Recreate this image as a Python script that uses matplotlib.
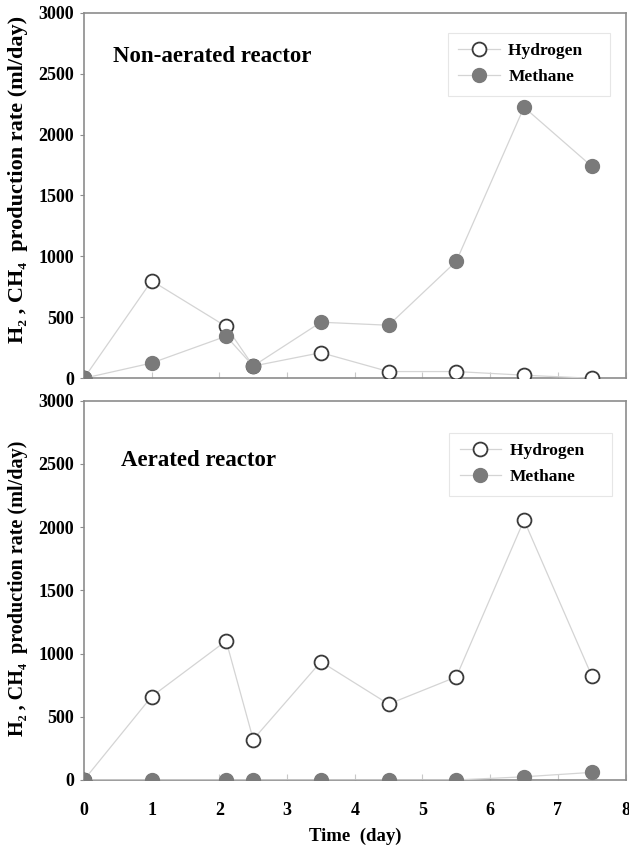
import matplotlib
matplotlib.use("Agg")
import matplotlib.pyplot as plt

plt.rcParams['font.family'] = ['Liberation Serif', 'DejaVu Serif']
plt.rcParams['font.weight'] = 'bold'

# sampling times (day)
days = [0, 1, 2.1, 2.5, 3.5, 4.5, 5.5, 6.5, 7.5]

# non-aerated reactor
h2_non = [0, 800, 425, 100, 210, 55, 55, 25, 0]
ch4_non = [0, 125, 345, 100, 460, 435, 960, 2225, 1740]

# aerated reactor
h2_aer = [0, 660, 1100, 320, 935, 600, 815, 2055, 825]
ch4_aer = [0, 0, 0, 0, 0, 0, 0, 25, 60]

titles = ['Non-aerated reactor', 'Aerated reactor']
title_pos = [(0.43, 2640), (0.55, 2526)]
legend_anchor = [(0.972, 0.945), (0.975, 0.915)]
ylabel = 'H\u2082 , CH\u2084  production rate (ml/day)'
ylabel_size = [16, 14.5]
ylabel_y = [0.545, 0.505]

fig = plt.figure(figsize=(6.29, 8.5), dpi=100)
ax1 = fig.add_axes([0.1335, 0.555, 0.861, 0.43])
ax2 = fig.add_axes([0.1335, 0.0824, 0.861, 0.4462])

spine_col = '#8c8c8c'
line_col = '#d4d4d4'
fill_col = '#7a7a7a'

for i, (ax, h2, ch4) in enumerate([(ax1, h2_non, ch4_non), (ax2, h2_aer, ch4_aer)]):
    ax.plot(days, h2, '-o', color=line_col, lw=0.9, ms=10,
            mfc='white', mec='#3a3a3a', mew=1.3, label='Hydrogen    ', zorder=3)
    ax.plot(days, ch4, '-o', color=line_col, lw=0.9, ms=10,
            mfc=fill_col, mec=fill_col, label='Methane', zorder=3)
    ax.set_xlim(0, 8)
    ax.set_ylim(0, 3000)
    ax.set_yticks(range(0, 3001, 500))
    ax.set_xticks(range(0, 9))
    for s in ax.spines.values():
        s.set_color(spine_col)
        s.set_linewidth(1.2)
    ax.tick_params(axis='x', direction='in', length=4, color='#c8c8c8', labelsize=13, pad=16)
    ax.tick_params(axis='y', direction='out', length=3, color=spine_col, labelsize=13, pad=4)
    for lab in ax.get_xticklabels() + ax.get_yticklabels():
        lab.set_fontweight('bold')
    ax.set_ylabel(ylabel, fontsize=ylabel_size[i], fontweight='bold')
    ax.yaxis.set_label_coords(-0.104, ylabel_y[i])
    ax.text(title_pos[i][0], title_pos[i][1], titles[i], fontsize=16.5,
            fontweight='bold', va='center', ha='left')
    leg = ax.legend(loc='upper right', bbox_to_anchor=legend_anchor[i],
                    prop={'weight': 'bold', 'size': 12.5}, fancybox=False,
                    borderpad=0.6, handlelength=2.4, handletextpad=0.5,
                    labelspacing=0.55, borderaxespad=0)
    leg.get_frame().set_edgecolor('#e0e0e0')
    leg.get_frame().set_linewidth(0.8)

ax1.tick_params(axis='x', labelbottom=False)
ax2.set_xlabel('Time  (day)', fontsize=13.5, fontweight='bold', labelpad=6)

fig.savefig('out.png', dpi=100)
